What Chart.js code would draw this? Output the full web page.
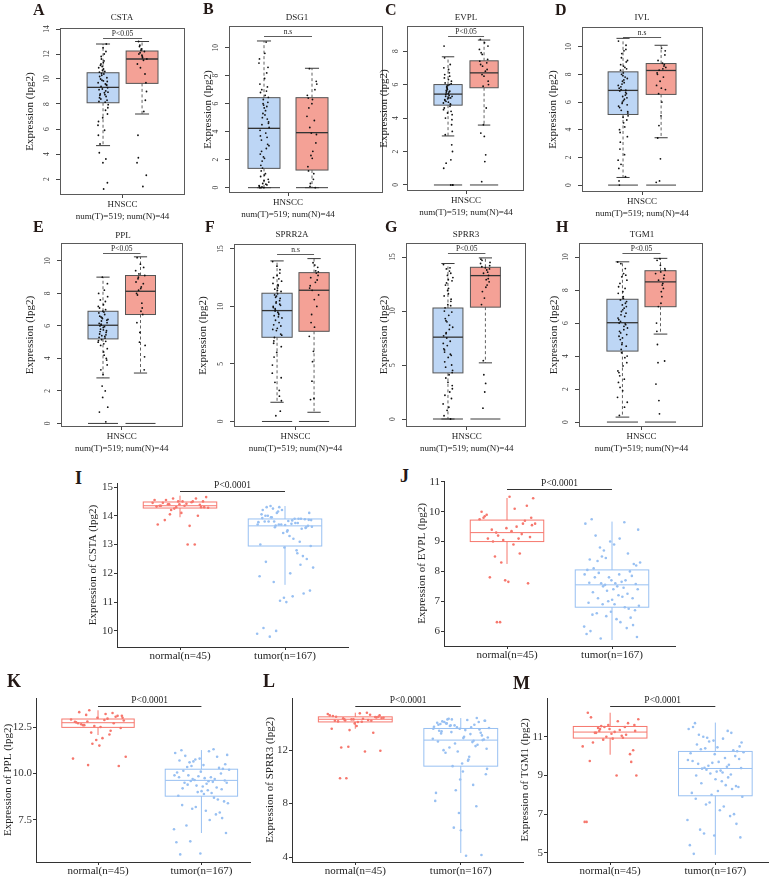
<!DOCTYPE html>
<html>
<head>
<meta charset="utf-8">
<script src="https://cdn.jsdelivr.net/npm/chart.js@4.4.1/dist/chart.umd.min.js"></script>
<style>
  html, body { margin: 0; padding: 0; background: #fff; overflow: hidden; }
  #fig { position: relative; width: 769px; height: 878px; }
  .pc { position: absolute; }
  .lt { position: absolute; font-family: "Liberation Serif", serif; font-weight: bold; line-height: 1; color: #231815; }
  .tt { position: absolute; font: 9px "Liberation Serif", serif; color: #222; transform: translate(-50%, -50%); white-space: nowrap; }
</style>
</head>
<body>
<div id="fig"></div>
<script>
// box stats: [whisker low, q1, median, q3, whisker high]
// --- GEPIA panels (tumor = blue, normal = red) ---
const aTicks = [2, 4, 6, 8, 10, 12, 14];
const aTumorBox = [4.67, 8.1, 9.33, 10.5, 12.8];
const aNormalBox = [7.2, 9.65, 11.6, 12.24, 13.0];
const aTumorPts = [9.4, 7.2, 10.8, 8.5, 12.2, 9.9, 6.3, 8.9, 11.1, 10.1, 3.3, 8.2, 9.6, 11.6, 7.7, 10.4, 8.7, 12.8, 9.2, 5.5, 10.6, 8.4, 9.8, 11.3, 4.1, 9.05, 10.3, 7.95, 12.0, 8.8, 9.5, 6.9, 10.9, 8.15, 11.8, 9.3, 1.2, 10.2, 8.6, 11.0, 9.7, 5.9, 10.0, 8.3, 12.5, 9.15, 7.5, 10.45, 8.95, 11.45, 4.8, 9.55, 10.7, 6.6, 8.75, 11.2, 1.7, 9.85, 10.55, 3.6];
const aNormalPts = [12.1, 9.0, 11.7, 13.0, 10.4, 12.3, 3.3, 11.5, 12.6, 9.7, 11.9, 5.5, 12.2, 10.9, 11.6, 1.4, 12.0, 8.3, 12.4, 11.2, 7.4, 12.7, 2.3, 11.8, 3.7];

const bTicks = [0, 2, 4, 6, 8, 10];
const bTumorBox = [0, 1.38, 4.24, 6.43, 10.48];
const bNormalBox = [0, 1.26, 3.93, 6.43, 8.53];
const bTumorPts = [0.05, 4.6, 2.1, 6.8, 0.2, 5.3, 8.9, 1.0, 3.4, 6.1, 0.0, 7.4, 2.8, 5.0, 0.4, 9.6, 1.6, 4.9, 6.3, 0.1, 3.9, 7.0, 0.6, 5.7, 2.4, 8.2, 0.3, 4.3, 6.6, 1.2, 3.1, 5.9, 0.0, 10.4, 1.9, 4.7, 7.8, 0.8, 3.6, 6.0, 0.15, 5.5, 2.6, 8.6, 0.5, 4.1, 6.9, 1.4, 3.0, 5.2, 0.0, 7.2, 2.2, 9.2, 0.25, 4.5, 6.45, 0.9, 3.7, 5.8];
const bNormalPts = [0.1, 3.8, 6.3, 1.2, 7.0, 2.3, 5.1, 0.6, 8.5, 3.2, 6.0, 1.5, 4.8, 0.3, 7.4, 2.6, 5.7, 0.0, 3.9, 6.6, 1.0, 4.3, 7.6, 2.1, 6.4];

const cTicks = [0, 2, 4, 6, 8];
const cTumorBox = [2.93, 4.77, 5.43, 6.0, 7.66];
const cNormalBox = [3.58, 5.81, 6.7, 7.42, 8.66];
const cTumorPts = [5.5, 4.2, 6.3, 5.1, 0, 5.8, 4.9, 6.7, 5.3, 3.6, 5.95, 4.6, 7.2, 5.6, 2.0, 5.2, 6.1, 4.4, 5.7, 1.0, 6.5, 5.0, 3.9, 5.45, 7.6, 4.8, 5.9, 0, 5.35, 4.0, 6.2, 5.15, 8.3, 4.7, 5.65, 3.2, 6.9, 5.05, 1.5, 5.75, 4.5, 6.0, 5.4, 2.4, 5.25, 6.4, 4.85, 5.85, 0, 5.55, 3.0, 6.05, 4.3, 7.0, 5.6, 1.3, 5.3, 4.95, 6.6, 5.2];
const cNormalPts = [7.8, 6.2, 8.5, 3.1, 7.3, 5.9, 8.1, 6.8, 0.2, 7.5, 6.5, 8.7, 4.6, 7.1, 6.0, 1.4, 7.9, 6.9, 3.6, 7.4, 1.8, 6.6, 8.3, 2.9, 7.2];

const dTicks = [0, 2, 4, 6, 8, 10];
const dTumorBox = [0.55, 5.1, 6.84, 8.18, 10.6];
const dNormalBox = [3.42, 6.55, 8.28, 8.78, 10.1];
const dTumorPts = [6.9, 3.5, 8.6, 5.6, 9.8, 7.3, 1.8, 6.2, 8.3, 4.7, 7.9, 0.3, 6.5, 9.2, 5.3, 7.6, 2.6, 8.9, 6.0, 10.4, 4.2, 7.1, 5.8, 8.1, 0.0, 6.7, 9.5, 5.0, 7.4, 3.1, 8.4, 6.4, 1.2, 7.8, 5.4, 9.0, 4.5, 6.8, 10.1, 5.9, 7.2, 2.2, 8.7, 6.3, 4.9, 7.0, 0.6, 8.0, 5.2, 9.7, 3.8, 6.6, 7.5, 5.7, 8.5, 1.5, 7.7, 6.1, 4.0, 6.85];
const dNormalPts = [8.3, 6.9, 9.9, 3.4, 8.6, 7.5, 0.2, 8.8, 6.6, 9.4, 5.0, 8.1, 7.8, 0.3, 8.5, 6.0, 9.0, 8.7, 1.9, 7.2, 8.4, 4.3, 9.7, 7.0, 8.0];

const eTicks = [0, 2, 4, 6, 8, 10];
const eTumorBox = [2.8, 5.2, 6.04, 6.9, 9.0];
const eNormalBox = [3.1, 6.7, 8.13, 9.1, 10.25];
const eTumorPts = [6.1, 4.6, 7.3, 5.5, 0.1, 6.5, 5.0, 8.2, 5.8, 3.9, 6.9, 5.3, 2.0, 6.3, 7.8, 4.9, 6.0, 5.6, 9.0, 5.1, 6.7, 3.3, 6.2, 5.9, 0.7, 7.0, 5.4, 6.4, 4.2, 7.6, 5.7, 1.6, 6.8, 5.25, 6.05, 8.6, 4.4, 6.6, 5.45, 2.3, 7.2, 5.95, 4.8, 6.35, 3.0, 6.15, 7.5, 5.15, 1.0, 6.85, 5.65, 4.0, 6.45, 8.0, 5.35, 6.55, 3.6, 5.75, 7.1, 5.05];
const eNormalPts = [8.2, 9.1, 6.9, 10.2, 8.6, 5.0, 9.4, 7.4, 8.9, 3.3, 9.8, 8.0, 6.7, 9.2, 4.8, 8.4, 7.9, 9.6, 5.6, 8.7, 7.1, 9.0, 4.1, 8.3, 6.2];

const fTicks = [0, 5, 10, 15];
const fTumorBox = [1.67, 7.32, 9.64, 11.15, 13.96];
const fNormalBox = [0.8, 7.84, 11.41, 12.94, 14.16];
const fTumorPts = [9.8, 6.5, 11.6, 8.4, 12.9, 10.3, 4.2, 9.1, 11.0, 7.6, 13.5, 10.0, 2.7, 8.8, 12.2, 9.5, 5.6, 10.7, 7.9, 13.9, 9.3, 3.4, 11.3, 8.1, 12.5, 10.5, 0.5, 9.0, 11.8, 7.3, 10.1, 6.0, 12.0, 8.6, 9.7, 1.8, 11.1, 7.0, 13.2, 10.4, 4.9, 9.4, 11.5, 8.3, 12.7, 9.9, 2.2, 10.8, 7.5, 11.9, 9.2, 0.9, 10.9, 8.0, 12.4, 9.6, 3.8, 11.4, 6.8, 10.2];
const fNormalPts = [11.4, 13.0, 8.2, 12.5, 10.0, 13.8, 7.4, 12.1, 9.3, 13.4, 2.0, 11.8, 12.9, 5.2, 11.0, 13.6, 8.6, 12.3, 6.1, 11.6, 13.1, 3.5, 12.7, 10.6, 1.9];

const gTicks = [0, 5, 10, 15];
const gTumorBox = [0, 4.27, 7.58, 10.28, 14.4];
const gNormalBox = [5.2, 10.36, 13.28, 14.05, 14.92];
const gTumorPts = [7.9, 3.1, 11.6, 6.2, 13.5, 9.0, 1.4, 8.3, 12.4, 5.0, 10.6, 0.3, 7.2, 13.9, 4.5, 9.6, 2.2, 11.1, 6.8, 14.3, 8.7, 3.8, 12.8, 5.7, 10.0, 0.0, 7.5, 13.1, 4.1, 9.3, 1.9, 11.9, 6.5, 14.0, 8.0, 2.8, 12.1, 5.3, 10.9, 0.8, 7.0, 13.7, 4.8, 9.9, 3.4, 11.4, 6.0, 12.6, 8.5, 1.1, 10.3, 5.9, 13.3, 7.7, 2.5, 9.1, 4.3, 12.9, 6.4, 10.5];
const gNormalPts = [13.5, 14.2, 12.2, 14.7, 13.0, 11.2, 14.4, 13.8, 1.0, 12.7, 14.0, 10.6, 13.6, 4.1, 14.5, 12.9, 11.8, 13.3, 2.5, 14.8, 12.4, 5.4, 13.9, 3.3, 14.1];

const hTicks = [0, 2, 4, 6, 8, 10];
const hTumorBox = [0.3, 4.3, 6.02, 7.44, 9.71];
const hNormalBox = [5.33, 6.99, 8.5, 9.17, 9.92];
const hTumorPts = [6.1, 3.6, 7.9, 5.2, 9.3, 6.7, 1.5, 5.6, 8.4, 4.6, 7.1, 2.4, 6.4, 9.6, 4.0, 7.6, 0.4, 5.9, 8.8, 3.1, 6.9, 5.0, 7.3, 1.9, 6.2, 8.1, 4.4, 5.7, 9.0, 2.8, 6.6, 4.8, 7.8, 0.9, 5.4, 8.6, 3.4, 6.0, 7.2, 4.2, 9.7, 5.8, 2.1, 7.0, 5.1, 8.2, 3.9, 6.5, 1.2, 7.5, 5.5, 8.9, 4.7, 6.3, 2.6, 7.4, 5.3, 6.8, 3.0, 5.95];
const hNormalPts = [8.6, 9.3, 7.2, 9.8, 8.1, 0.5, 9.0, 7.6, 3.6, 8.9, 9.5, 6.0, 8.4, 1.3, 9.2, 7.9, 4.7, 8.7, 9.9, 2.3, 8.3, 7.0, 3.7, 9.1, 5.5];

// --- ggplot panels (normal = red, tumor = blue) ---
const iTicks = [10, 11, 12, 13, 14, 15];
const iNormalBox = [13.95, 14.27, 14.35, 14.48, 14.7];
const iTumorBox = [11.6, 12.95, 13.65, 13.89, 14.34];
const iNormalPts = [14.4, 14.3, 14.5, 14.35, 14.6, 14.25, 14.45, 13.0, 14.55, 14.3, 14.4, 13.7, 14.5, 14.2, 14.65, 14.35, 14.45, 14.0, 14.3, 14.55, 13.65, 14.4, 14.5, 14.1, 14.35, 13.0, 14.6, 14.28, 14.42, 13.85, 14.38, 14.5, 14.32, 14.47, 14.05];
const iTumorPts = [13.8, 14.1, 13.5, 12.4, 13.9, 14.3, 13.7, 11.2, 13.95, 13.6, 12.9, 14.2, 13.75, 10.0, 13.85, 13.3, 14.0, 12.6, 13.7, 11.9, 13.9, 14.25, 13.65, 11.0, 13.8, 13.1, 14.15, 12.2, 13.72, 9.8, 13.88, 13.4, 14.05, 12.8, 13.6, 11.4, 13.82, 14.3, 13.55, 11.05, 13.78, 13.2, 13.95, 12.5, 13.68, 10.1, 13.9, 14.1, 13.62, 12.0, 13.8, 11.3, 14.2, 13.0, 13.75, 11.7, 13.86, 13.45, 14.0, 12.3, 13.7, 9.9, 13.84, 14.34, 13.58, 11.15, 13.92, 12.7, 13.66, 12.95];

const jTicks = [6, 7, 8, 9, 10, 11];
const jNormalBox = [8.25, 9.0, 9.3, 9.72, 10.46];
const jTumorBox = [5.7, 6.8, 7.55, 8.05, 9.67];
const jNormalPts = [9.3, 9.8, 10.5, 9.1, 9.6, 8.3, 9.75, 10.1, 9.0, 7.6, 9.45, 9.85, 8.6, 9.2, 10.45, 9.35, 7.8, 9.7, 9.05, 10.0, 9.5, 8.5, 9.15, 7.65, 9.9, 9.25, 6.3, 9.6, 8.9, 9.4, 10.2, 7.7, 9.8, 9.1, 6.3, 9.55];
const jTumorPts = [7.6, 8.2, 6.9, 7.3, 8.6, 6.5, 7.9, 9.1, 7.1, 6.2, 7.7, 8.4, 6.8, 7.5, 9.4, 6.4, 7.8, 8.0, 7.0, 5.9, 7.65, 8.8, 6.7, 7.4, 9.75, 6.1, 7.55, 8.3, 7.2, 6.6, 7.85, 9.0, 6.95, 7.45, 8.5, 5.8, 7.6, 8.1, 6.75, 7.35, 9.6, 6.3, 7.95, 8.25, 7.05, 6.0, 7.7, 8.7, 6.85, 7.5, 9.2, 6.45, 7.8, 8.05, 7.15, 5.75, 7.58, 8.9, 6.55, 7.25, 8.45, 6.15, 7.9, 8.35, 7.1, 6.65, 7.62, 9.65, 6.9, 7.4];

const kTicks = [7.5, 10, 12.5];
const kTickLabels = ['7.5', '10.0', '12.5'];
const kNormalBox = [12.07, 12.48, 12.73, 12.93, 13.4];
const kTumorBox = [6.8, 8.78, 9.63, 10.23, 11.26];
const kNormalPts = [12.8, 13.1, 12.5, 13.3, 12.7, 11.6, 12.9, 13.2, 12.6, 10.4, 13.0, 12.75, 12.3, 13.4, 12.85, 11.9, 12.65, 13.05, 12.55, 10.8, 12.95, 13.15, 12.45, 11.5, 12.7, 13.25, 12.2, 10.9, 12.88, 12.6, 13.1, 11.8, 12.78, 12.1, 10.45, 13.0];
const kTumorPts = [9.6, 10.5, 8.9, 9.2, 10.9, 8.2, 9.9, 11.2, 9.4, 7.6, 10.1, 10.7, 8.7, 9.7, 11.0, 8.0, 9.5, 10.3, 9.0, 6.3, 9.8, 10.6, 8.5, 9.3, 11.25, 7.8, 9.65, 10.2, 9.1, 7.2, 10.0, 10.8, 8.8, 9.55, 10.4, 6.8, 9.75, 10.15, 8.6, 9.35, 11.1, 7.5, 9.9, 10.25, 9.05, 5.65, 9.7, 10.65, 8.4, 9.45, 10.95, 7.9, 9.85, 10.05, 8.95, 6.35, 9.62, 10.45, 8.3, 9.25, 10.75, 7.0, 9.58, 10.35, 9.15, 5.7, 9.8, 11.3, 8.1, 9.5];

const lTicks = [4, 8, 12];
const lNormalBox = [13.6, 14.11, 14.31, 14.49, 14.8];
const lTumorBox = [4.3, 10.8, 12.75, 13.62, 14.4];
const lNormalPts = [14.3, 14.6, 14.1, 14.5, 14.2, 13.5, 14.7, 14.35, 12.2, 14.45, 14.0, 14.55, 14.25, 9.9, 14.4, 14.75, 14.15, 13.3, 14.3, 14.6, 11.9, 14.38, 14.5, 13.8, 14.2, 14.65, 12.25, 14.42, 14.12, 9.9, 14.48, 14.3, 13.6, 14.8, 14.22, 11.95];
const lTumorPts = [13.8, 14.2, 12.9, 13.4, 14.4, 12.5, 13.6, 11.3, 14.0, 13.1, 9.8, 13.9, 12.7, 14.3, 10.6, 13.5, 12.0, 14.1, 13.7, 8.2, 13.2, 14.35, 12.8, 11.0, 13.95, 12.3, 6.2, 13.65, 14.25, 11.8, 13.3, 7.3, 14.05, 12.6, 13.85, 10.2, 13.0, 14.15, 12.4, 9.0, 13.75, 11.5, 14.3, 12.75, 6.0, 13.45, 13.9, 10.8, 12.95, 4.1, 14.1, 13.55, 11.9, 8.8, 13.7, 12.2, 14.2, 10.4, 13.25, 7.8, 13.85, 12.85, 11.2, 14.0, 4.15, 13.6, 12.65, 9.4, 13.35, 12.1];

const mTicks = [5, 7, 9, 11];
const mNormalBox = [10.07, 10.93, 11.24, 11.53, 12.24];
const mTumorBox = [4.9, 7.95, 9.36, 10.24, 11.73];
const mNormalPts = [11.3, 11.6, 10.9, 12.0, 11.1, 11.5, 10.5, 11.8, 11.2, 9.7, 11.4, 12.24, 10.95, 11.55, 9.0, 11.25, 10.7, 11.7, 11.0, 6.6, 11.35, 11.45, 10.3, 11.15, 9.75, 11.5, 10.85, 11.9, 9.0, 11.2, 10.1, 11.6, 6.6, 11.05, 11.4, 11.3];
const mTumorPts = [9.4, 10.5, 8.2, 9.0, 11.2, 7.6, 9.8, 10.9, 8.6, 6.5, 10.1, 11.5, 8.9, 9.3, 10.7, 7.2, 9.6, 10.3, 8.0, 5.4, 9.9, 11.0, 8.4, 9.2, 11.7, 6.9, 9.5, 10.2, 8.7, 6.2, 10.0, 10.8, 8.1, 9.45, 10.4, 5.8, 9.7, 10.6, 8.3, 9.1, 11.4, 7.4, 9.35, 10.25, 8.8, 4.95, 9.55, 10.95, 7.9, 9.25, 11.1, 7.0, 9.65, 10.15, 8.5, 6.0, 9.85, 10.45, 7.8, 9.05, 10.75, 6.7, 9.15, 10.35, 8.45, 5.9, 9.75, 11.3, 7.5, 9.38];

const gepiaXLabel = [['HNSCC', 'num(T)=519; num(N)=44']];
const ggXLabels = ['normal(n=45)', 'tumor(n=167)'];

const SERIF = '"Liberation Serif", "Times New Roman", serif';
const BLUE_FILL = '#BDD6F5', RED_FILL = '#F4A196';
const RED_LINE = '#F6776D', BLUE_LINE = '#98C0F2';

// layout of every panel (plot frame = [left, top, right, bottom] in page px)
const gepiaPanels = [
  { id: 'A', gene: 'CSTA', frame: [60, 28, 185, 195], yTitleX: 30, xr: [0.077, 3.92], yr: [0.72, 14.08], ticks: aTicks, hw: 0.49, sp: 0.16, sig: 'P<0.05', T: [aTumorBox, aTumorPts], N: [aNormalBox, aNormalPts], letter: [33, 5], title: [122, 17] },
  { id: 'B', gene: 'DSG1', frame: [229, 26, 383, 193], yTitleX: 208, xr: [0.525, 4.375], yr: [-0.38, 11.55], ticks: bTicks, hw: 0.4, sp: 0.13, sig: 'n.s', T: [bTumorBox, bTumorPts], N: [bNormalBox, bNormalPts], letter: [203, 4], title: [297, 17] },
  { id: 'C', gene: 'EVPL', frame: [407, 26, 524, 191], yTitleX: 384, xr: [0.033, 3.93], yr: [-0.36, 9.5], ticks: cTicks, hw: 0.47, sp: 0.16, sig: 'P<0.05', T: [cTumorBox, cTumorPts], N: [cNormalBox, cNormalPts], letter: [385, 5], title: [466, 17] },
  { id: 'D', gene: 'IVL', frame: [582, 27, 703, 192], yTitleX: 553, xr: [0.107, 3.92], yr: [-0.5, 11.42], ticks: dTicks, hw: 0.47, sp: 0.16, sig: 'n.s', T: [dTumorBox, dTumorPts], N: [dNormalBox, dNormalPts], letter: [555, 5], title: [642, 17] },
  { id: 'E', gene: 'PPL', frame: [61, 243, 183, 427], yTitleX: 30, xr: [0.056, 3.96], yr: [-0.22, 11.1], ticks: eTicks, hw: 0.48, sp: 0.16, sig: 'P<0.05', T: [eTumorBox, eTumorPts], N: [eNormalBox, eNormalPts], letter: [33, 222], title: [123, 235] },
  { id: 'F', gene: 'SPRR2A', frame: [234, 244, 356, 427], yTitleX: 203, xr: [0.004, 3.96], yr: [-0.48, 15.43], ticks: fTicks, hw: 0.49, sp: 0.16, sig: 'n.s', T: [fTumorBox, fTumorPts], N: [fNormalBox, fNormalPts], letter: [205, 222], title: [292, 234] },
  { id: 'G', gene: 'SPRR3', frame: [406, 243, 526, 427], yTitleX: 384, xr: [0.056, 3.9], yr: [-0.74, 16.3], ticks: gTicks, hw: 0.48, sp: 0.16, sig: 'P<0.05', T: [gTumorBox, gTumorPts], N: [gNormalBox, gNormalPts], letter: [385, 222], title: [466, 234] },
  { id: 'H', gene: 'TGM1', frame: [579, 243, 703, 427], yTitleX: 554, xr: [0.03, 3.94], yr: [-0.3, 10.85], ticks: hTicks, hw: 0.49, sp: 0.16, sig: 'P<0.05', T: [hTumorBox, hTumorPts], N: [hNormalBox, hNormalPts], letter: [556, 222], title: [642, 234] }
];

const ggPanels = [
  { id: 'I', gene: 'CSTA', frame: [117, 483, 348, 647], yTitleX: 93, xr: [0.4, 2.6], yr: [9.44, 15.14], ticks: iTicks, N: [iNormalBox, iNormalPts], T: [iTumorBox, iTumorPts], letter: [75, 472] },
  { id: 'J', gene: 'EVPL', frame: [444, 481, 675, 646], yTitleX: 422, xr: [0.4, 2.6], yr: [5.5, 11.03], ticks: jTicks, N: [jNormalBox, jNormalPts], T: [jTumorBox, jTumorPts], letter: [400, 470] },
  { id: 'K', gene: 'PPL', frame: [36, 698, 250, 862], yTitleX: 8, xr: [0.4, 2.47], yr: [5.24, 14.06], ticks: kTicks, tickLabels: kTickLabels, N: [kNormalBox, kNormalPts], T: [kTumorBox, kTumorPts], letter: [7, 675] },
  { id: 'L', gene: 'SPRR3', frame: [292, 698, 523, 862], yTitleX: 270, xr: [0.4, 2.59], yr: [3.63, 15.9], ticks: lTicks, N: [lNormalBox, lNormalPts], T: [lTumorBox, lTumorPts], letter: [263, 675] },
  { id: 'M', gene: 'TGM1', frame: [547, 698, 769, 862], yTitleX: 525, xr: [0.4, 2.51], yr: [4.53, 13.0], ticks: mTicks, N: [mNormalBox, mNormalPts], T: [mTumorBox, mTumorPts], letter: [513, 677] }
];

const fig = document.getElementById('fig');

// spread points sideways without randomness
function jit(i) { return (((i + 0.5) * 0.6180339887) % 1) * 2 - 1; }

// boxes, whiskers, frame and the significance bar, all placed through the chart scales
function boxLayer(p) {
  const seg = (ctx, x1, y1, x2, y2) => { ctx.beginPath(); ctx.moveTo(x1, y1); ctx.lineTo(x2, y2); ctx.stroke(); };
  return {
    id: 'boxLayer' + p.id,
    beforeDatasetsDraw(chart) {
      const { ctx, chartArea: a, scales: { x, y } } = chart;
      const Y = v => y.getPixelForValue(v);
      ctx.save();
      ctx.beginPath(); ctx.rect(a.left, a.top, a.width, a.height); ctx.clip();
      p.groups.forEach(gr => {
        const [lo, q1, med, q3, hi] = gr.box;
        const xc = x.getPixelForValue(gr.pos);
        const xl = x.getPixelForValue(gr.pos - p.hw);
        const xr = x.getPixelForValue(gr.pos + p.hw);
        if (p.gepia) {
          const cw = (xr - xl) * 0.22;
          ctx.strokeStyle = '#3a3a3a';
          ctx.lineWidth = 1;
          seg(ctx, xl, Y(0), xr, Y(0));
          ctx.setLineDash([3, 2.5]);
          ctx.lineWidth = 0.8;
          seg(ctx, xc, Y(q3), xc, Y(hi));
          seg(ctx, xc, Y(q1), xc, Y(lo));
          ctx.setLineDash([]);
          ctx.lineWidth = 1;
          seg(ctx, xc - cw, Y(hi), xc + cw, Y(hi));
          seg(ctx, xc - cw, Y(lo), xc + cw, Y(lo));
          ctx.fillStyle = gr.color;
          ctx.fillRect(xl, Y(q3), xr - xl, Y(q1) - Y(q3));
          ctx.strokeStyle = '#555';
          ctx.strokeRect(xl, Y(q3), xr - xl, Y(q1) - Y(q3));
          ctx.strokeStyle = '#333';
          ctx.lineWidth = 1.3;
          seg(ctx, xl, Y(med), xr, Y(med));
        } else {
          ctx.strokeStyle = gr.color;
          ctx.lineWidth = 1;
          seg(ctx, xc, Y(q3), xc, Y(hi));
          seg(ctx, xc, Y(q1), xc, Y(lo));
          ctx.strokeRect(xl, Y(q3), xr - xl, Y(q1) - Y(q3));
          seg(ctx, xl, Y(med), xr, Y(med));
        }
      });
      ctx.restore();
    },
    afterDraw(chart) {
      const { ctx, chartArea: a, scales: { x } } = chart;
      ctx.save();
      if (p.gepia) {
        ctx.strokeStyle = '#5a5a5a';
        ctx.lineWidth = 1;
        ctx.strokeRect(a.left + 0.5, a.top + 0.5, a.width - 1, a.height - 1);
      }
      const x1 = x.getPixelForValue(p.groups[0].pos);
      const x2 = x.getPixelForValue(p.groups[1].pos);
      const by = Math.round(a.top + (p.gepia ? 10 : 8)) + 0.5;
      ctx.strokeStyle = '#333';
      ctx.lineWidth = p.gepia ? 0.8 : 1;
      seg(ctx, x1, by, x2, by);
      ctx.fillStyle = '#222';
      ctx.font = (p.gepia ? '7.5px ' : '9.5px ') + SERIF;
      ctx.textAlign = 'center';
      ctx.textBaseline = 'bottom';
      ctx.fillText(p.sig, (x1 + x2) / 2, by - 1);
      ctx.restore();
    }
  };
}

function addText(cls, txt, left, top, size) {
  const d = document.createElement('div');
  d.className = cls;
  d.textContent = txt;
  d.style.left = left + 'px';
  d.style.top = top + 'px';
  if (size) d.style.fontSize = size + 'px';
  fig.appendChild(d);
}

function drawPanel(p) {
  const g = p.gepia;
  const [l, t, r, b] = p.frame;
  const padT = 12, padR = g ? 4 : 2, axH = g ? 32 : 20;
  const cl = p.yTitleX - 8, ct = t - padT;
  const w = r + padR - cl, h = b + axH - ct;

  const holder = document.createElement('div');
  holder.className = 'pc';
  holder.style.cssText = `left:${cl}px;top:${ct}px;width:${w}px;height:${h}px`;
  const cv = document.createElement('canvas');
  cv.width = w; cv.height = h;
  holder.appendChild(cv);
  fig.appendChild(holder);

  const tickGrid = { display: true, drawOnChartArea: false, drawTicks: true, color: g ? '#444' : '#333', lineWidth: 1 };

  new Chart(cv, {
    type: 'scatter',
    data: {
      datasets: p.groups.map(gr => ({
        data: gr.pts.map((v, i) => ({ x: gr.pos + jit(i) * p.sp, y: v })),
        pointRadius: g ? 0.9 : 1.3,
        pointHoverRadius: 0,
        pointBorderWidth: 0,
        pointBackgroundColor: g ? '#111' : gr.color
      }))
    },
    options: {
      responsive: false,
      animation: false,
      events: [],
      layout: { padding: { top: padT, right: padR, left: 0, bottom: 0 } },
      plugins: { legend: { display: false }, tooltip: { enabled: false } },
      scales: {
        x: {
          type: 'linear', min: p.xr[0], max: p.xr[1],
          afterBuildTicks: s => { s.ticks = p.xTicks.map(v => ({ value: v })); },
          afterFit: s => { s.height = axH; },
          ticks: {
            autoSkip: false, minRotation: 0, maxRotation: 0, padding: 0, color: '#222',
            font: { family: SERIF, size: g ? 9 : 11, lineHeight: g ? 1.4 : 1.2 },
            callback: (v, i) => p.xLabels[i]
          },
          grid: { ...tickGrid, tickLength: 3 },
          border: { display: !g, color: '#333', width: 1 }
        },
        y: {
          type: 'linear', min: p.yr[0], max: p.yr[1],
          afterBuildTicks: s => { s.ticks = p.ticks.map(v => ({ value: v })); },
          afterFit: s => { s.width = l - cl; },
          ticks: g
            ? { minRotation: 90, maxRotation: 90, crossAlign: 'center', padding: 5, color: '#333', font: { family: SERIF, size: 7.5 }, callback: (v, i) => String(p.ticks[i]) }
            : { padding: 1, color: '#333', font: { family: SERIF, size: 11 }, callback: (v, i) => p.tickLabels ? p.tickLabels[i] : String(p.ticks[i]) },
          grid: { ...tickGrid, tickLength: g ? 4 : 3 },
          border: { display: !g, color: '#333', width: 1 },
          title: {
            display: true, text: p.yTitle, color: '#222',
            font: { family: SERIF, size: 11, lineHeight: 1.2 },
            padding: { top: 1.4, bottom: 0 }
          }
        }
      }
    },
    plugins: [boxLayer(p)]
  });
}

gepiaPanels.forEach(p => {
  drawPanel({
    ...p, gepia: true,
    yTitle: 'Expression (lpg2)',
    xTicks: [2], xLabels: gepiaXLabel,
    groups: [
      { pos: 1.4, box: p.T[0], pts: p.T[1], color: BLUE_FILL },
      { pos: 2.6, box: p.N[0], pts: p.N[1], color: RED_FILL }
    ]
  });
  addText('lt', p.id, p.letter[0], p.letter[1] - 3, 16);
  addText('tt', p.gene, p.title[0], p.title[1]);
});

ggPanels.forEach(p => {
  drawPanel({
    ...p, gepia: false, hw: 0.35, sp: 0.27, sig: 'P<0.0001',
    yTitle: 'Expression of ' + p.gene + ' (lpg2)',
    xTicks: [1, 2], xLabels: ggXLabels,
    groups: [
      { pos: 1, box: p.N[0], pts: p.N[1], color: RED_LINE },
      { pos: 2, box: p.T[0], pts: p.T[1], color: BLUE_LINE }
    ]
  });
  addText('lt', p.id, p.letter[0], p.letter[1] - 3, 18);
});
</script>
</body>
</html>
